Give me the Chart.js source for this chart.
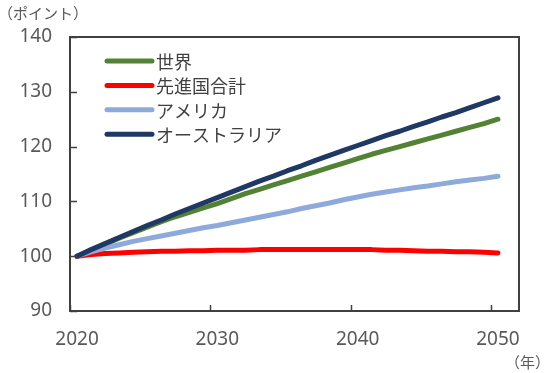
<!DOCTYPE html>
<html>
<head>
<meta charset="utf-8">
<script src="https://cdn.jsdelivr.net/npm/chart.js@4/dist/chart.umd.min.js"></script>
<style>
  html, body { margin: 0; padding: 0; background: #fff; }
  #wrap { width: 550px; height: 373px; }
</style>
</head>
<body>
<div id="wrap"><canvas id="chart" width="550" height="373"></canvas></div>
<script>
// --- data (index, 2020 = 100) ---
const years = [];
for (let y = 2020; y <= 2051; y++) years.push(String(y)); // 2051 is an empty slot, as in the source chart

const seriesNames = ["世界", "先進国合計", "アメリカ", "オーストラリア"];

const world = [100.0, 101.1, 102.2, 103.3, 104.3, 105.3, 106.3, 107.2, 108.0, 108.8,
  109.6, 110.5, 111.4, 112.2, 113.0, 113.8, 114.6, 115.4, 116.2, 117.0,
  117.8, 118.6, 119.3, 120.0, 120.7, 121.4, 122.1, 122.8, 123.5, 124.2, 125.0];

const advanced = [100.0, 100.3, 100.5, 100.6, 100.7, 100.8, 100.9, 100.9, 101.0, 101.0,
  101.1, 101.1, 101.1, 101.2, 101.2, 101.2, 101.2, 101.2, 101.2, 101.2,
  101.2, 101.2, 101.1, 101.1, 101.0, 100.9, 100.9, 100.8, 100.8, 100.7, 100.6];

const usa = [100.0, 100.8, 101.5, 102.1, 102.7, 103.2, 103.7, 104.2, 104.7, 105.2,
  105.6, 106.1, 106.6, 107.1, 107.6, 108.1, 108.7, 109.2, 109.7, 110.3,
  110.8, 111.3, 111.7, 112.1, 112.5, 112.8, 113.2, 113.6, 113.9, 114.2, 114.6];

const australia = [100.0, 101.2, 102.3, 103.4, 104.5, 105.6, 106.6, 107.7, 108.7, 109.7,
  110.7, 111.7, 112.7, 113.7, 114.6, 115.6, 116.5, 117.5, 118.4, 119.3,
  120.2, 121.1, 122.0, 122.8, 123.7, 124.5, 125.4, 126.2, 127.1, 128.0, 128.9];

const yTicks = [90, 100, 110, 120, 130, 140];
const yUnit = "（ポイント）";
const xUnit = "（年）";

// --- styling ---
const axisColor = "#404040";
const labelColor = "#595959";
const tickFont = { family: "'Noto Sans', 'Noto Sans CJK JP', sans-serif", size: 19 };
const jpFont = "'Noto Sans CJK JP', sans-serif";

function series(label, data, color, order) {
  return {
    label, data, order,
    borderColor: color,
    backgroundColor: color,
    borderWidth: 5,
    pointRadius: 0,
    tension: 0,
    borderCapStyle: "round",
    borderJoinStyle: "round",
  };
}

// frame, inward tick marks, legend and unit labels
const decorPlugin = {
  id: "decor",
  afterDatasetsDraw(chart) {
    const { ctx, chartArea: a, scales } = chart;
    const xs = scales.x, ys = scales.y;
    ctx.save();

    // frame
    ctx.strokeStyle = axisColor;
    ctx.lineWidth = 2;
    ctx.strokeRect(a.left, a.top, a.right - a.left, a.bottom - a.top);

    // y ticks (inward)
    ctx.lineWidth = 1.5;
    ctx.beginPath();
    yTicks.forEach(v => {
      const py = Math.round(ys.getPixelForValue(v)) + 0.5;
      ctx.moveTo(a.left, py);
      ctx.lineTo(a.left + 7, py);
    });
    // x ticks at category boundaries every 10 years (inward)
    for (let i = 0; i <= 30; i += 10) {
      const px = Math.round(xs.getPixelForValue(i - 0.5)) + 0.5;
      ctx.moveTo(px, a.bottom);
      ctx.lineTo(px, a.bottom - 6);
    }
    ctx.stroke();

    // legend inside plot area
    ctx.font = "18px " + jpFont;
    ctx.textBaseline = "middle";
    ctx.textAlign = "left";
    chart.data.datasets.forEach((ds, i) => {
      const ry = a.top + 24 + i * 24.4;
      ctx.strokeStyle = ds.borderColor;
      ctx.lineWidth = 5;
      ctx.lineCap = "round";
      ctx.beginPath();
      ctx.moveTo(a.left + 37, ry);
      ctx.lineTo(a.left + 82, ry);
      ctx.stroke();
      ctx.fillStyle = "#404040";
      ctx.fillText(ds.label, a.left + 86, ry + 1);
    });

    // unit labels
    ctx.font = "15px " + jpFont;
    ctx.fillStyle = labelColor;
    ctx.textAlign = "left";
    ctx.fillText(yUnit, -2, 13);
    ctx.textAlign = "right";
    ctx.fillText(xUnit, chart.width, 362);
    ctx.restore();
  }
};

new Chart(document.getElementById("chart"), {
  type: "line",
  data: {
    labels: years,
    datasets: [
      series(seriesNames[0], world, "#548235", 4),
      series(seriesNames[1], advanced, "#ff0000", 3),
      series(seriesNames[2], usa, "#8eaadb", 2),
      series(seriesNames[3], australia, "#203864", 1),
    ],
  },
  options: {
    responsive: false,
    animation: false,
    layout: { padding: { top: 37, right: 31, left: 0, bottom: 0 } },
    plugins: { legend: { display: false }, tooltip: { enabled: false } },
    scales: {
      x: {
        type: "category",
        offset: true,
        grid: { display: false, drawTicks: false },
        border: { display: false },
        afterFit: (s) => { s.height = 62; },
        ticks: {
          autoSkip: false,
          maxRotation: 0,
          padding: 17,
          color: labelColor,
          font: tickFont,
          callback: function (v, i) { return (i % 10 === 0 && i <= 30) ? this.getLabelForValue(v) : null; },
        },
      },
      y: {
        min: 90,
        max: 140,
        grid: { display: false, drawTicks: false },
        border: { display: false },
        afterFit: (s) => { s.width = 70; },
        ticks: {
          stepSize: 10,
          padding: 18,
          color: labelColor,
          font: tickFont,
        },
      },
    },
  },
  plugins: [decorPlugin],
});
</script>
</body>
</html>
